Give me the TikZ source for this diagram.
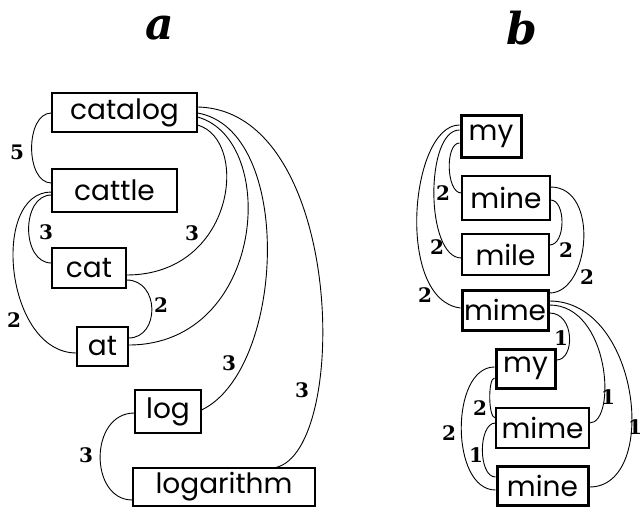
\documentclass[tikz,border=0pt]{standalone}
\usepackage{fontspec}
\newfontfamily\boxfont{Poppins}
\newfontfamily\numfont{DejaVu Serif}
\begin{document}
\begin{tikzpicture}[x=1pt,y=-1pt,
  word/.style={draw, line width=1.1pt, inner sep=0pt, font=\boxfont\fontsize{28}{28}\selectfont},
  wordthick/.style={word, line width=3pt},
  link/.style={line width=0.9pt},
  wt/.style={font=\numfont\bfseries\fontsize{20}{20}\selectfont, inner sep=0pt},
  panel/.style={font=\numfont\bfseries\itshape\fontsize{44}{44}\selectfont, inner sep=0pt}]
\useasboundingbox (0,0) rectangle (641,509);

% panel titles
\node[panel] (ta) at (160,28) {a};
\node[panel] (tb) at (522,28) {b};

% ---------- panel a ----------
\node[word, minimum width=145pt, minimum height=39pt] (catalog) at (124.5,112.5) {catalog};
\node[word, minimum width=125pt, minimum height=43pt] (cattle) at (114.5,190.5) {cattle};
\node[word, minimum width=74pt,  minimum height=40pt] (cat) at (89,268) {cat};
\node[word, minimum width=51pt,  minimum height=39pt] (at) at (102.5,346.5) {at};
\node[word, minimum width=66pt,  minimum height=43pt] (log) at (168,411.5) {log};
\node[word, minimum width=182pt, minimum height=38pt] (logarithm) at (224,487) {logarithm};

\draw[link] (catalog.west |- 0,113) .. controls (25,113) and (25,183) .. (cattle.west |- 0,183);
\draw[link] (cattle.west |- 0,195) .. controls (21,195) and (21,263) .. (cat.west |- 0,263);
\draw[link] (cattle.west |- 0,192) .. controls (-10,192) and (5,353) .. (at.west |- 0,353);
\draw[link] (catalog.east |- 0,125) .. controls (250,140) and (235,275) .. (cat.east |- 0,275);
\draw[link] (catalog.east |- 0,117) .. controls (280,140) and (265,345) .. (at.east |- 0,345);
\draw[link] (catalog.east |- 0,113) .. controls (295,130) and (285,370) .. (log.east |- 0,410);
\draw[link] (catalog.east |- 0,107) .. controls (345,110) and (350,450) .. (logarithm.north -| 276,0);
\draw[link] (cat.east |- 0,280) .. controls (160,280) and (160,338) .. (at.east |- 0,338);
\draw[link] (log.west |- 0,413) .. controls (89,413) and (89,500) .. (logarithm.west |- 0,500);

\node[wt] (w5)  at (17,152) {5};
\node[wt] (w3a) at (46,232) {3};
\node[wt] (w2a) at (14,320) {2};
\node[wt] (w3b) at (192,233) {3};
\node[wt] (w2b) at (161,305) {2};
\node[wt] (w3c) at (229,363) {3};
\node[wt] (w3d) at (302,390) {3};
\node[wt] (w3e) at (86,455) {3};

% ---------- panel b ----------
\node[wordthick, minimum width=60pt, minimum height=42pt] (myA) at (491,136) {my};
\node[word, minimum width=88pt, minimum height=44pt] (mineA) at (506,198) {mine};
\node[word, minimum width=87pt, minimum height=41pt] (mile) at (505.5,254.5) {mile};
\node[wordthick, minimum width=86pt, minimum height=40pt] (mimeA) at (505,310) {mime};
\node[wordthick, minimum width=59pt, minimum height=39pt] (myB) at (525.5,368.5) {my};
\node[word, minimum width=93pt, minimum height=40pt] (mimeB) at (542.5,428) {mime};
\node[wordthick, minimum width=91pt, minimum height=39pt] (mineB) at (542.5,486) {mine};

\draw[link] (myA.west |- 0,125) .. controls (410,125) and (395,300) .. (mimeA.west |- 0,308);
\draw[link] (myA.west |- 0,130) .. controls (425,130) and (425,258) .. (mile.west |- 0,258);
\draw[link] (myA.west |- 0,143) .. controls (445,143) and (446,193) .. (mineA.west |- 0,193);
\draw[link] (mineA.east |- 0,187) .. controls (600,187) and (590,293) .. (mimeA.east |- 0,293);
\draw[link] (mineA.east |- 0,200) .. controls (566,200) and (566,245) .. (mile.east |- 0,245);
\draw[link] (mimeA.east |- 0,313) .. controls (575,313) and (575,360) .. (myB.east |- 0,360);
\draw[link] (mimeA.east |- 0,305) .. controls (610,305) and (617,423) .. (mimeB.east |- 0,423);
\draw[link] (mimeA.east |- 0,301) .. controls (640,301) and (660,487) .. (mineB.east |- 0,487);
\draw[link] (myB.west |- 0,367) .. controls (450,367) and (450,490) .. (mineB.west |- 0,490);
\draw[link] (myB.west |- 0,378) .. controls (488,378) and (488,418) .. (mimeB.west |- 0,418);
\draw[link] (mimeB.west |- 0,423) .. controls (478,423) and (478,477) .. (mineB.west |- 0,477);

\node[wt] (v1)  at (443,193) {2};
\node[wt] (v2)  at (437,247) {2};
\node[wt] (v3)  at (425,295) {2};
\node[wt] (v4)  at (566,250) {2};
\node[wt] (v5)  at (587,277) {2};
\node[wt] (v6)  at (561,338) {1};
\node[wt] (v7)  at (608,397) {1};
\node[wt] (v8)  at (635,427) {1};
\node[wt] (v9)  at (480,408) {2};
\node[wt] (v10) at (449,433) {2};
\node[wt] (v11) at (476,455) {1};
\end{tikzpicture}
\end{document}
